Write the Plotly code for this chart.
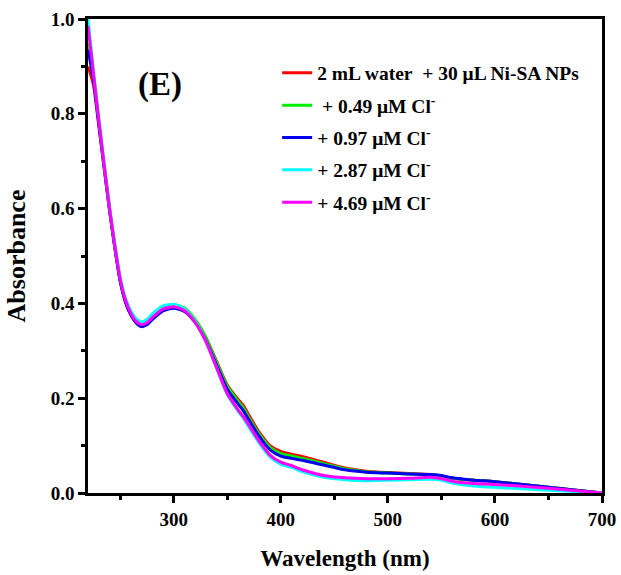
import plotly.graph_objects as go

# Wavelength grid (nm)
wavelength = [220, 225, 230, 235, 240, 245, 250, 255, 260, 265, 270, 275, 280, 290,
              300, 310, 320, 330, 340, 350, 360, 365, 370, 380, 390, 400, 410, 420,
              440, 460, 480, 500, 520, 540, 550, 560, 580, 600, 650, 700]

abs_blank = [0.900, 0.862, 0.776, 0.687, 0.598, 0.518, 0.448, 0.403, 0.376, 0.360, 0.352, 0.356, 0.367, 0.385,
             0.392, 0.386, 0.364, 0.328, 0.278, 0.228, 0.198, 0.185, 0.165, 0.128, 0.100, 0.088, 0.082, 0.077,
             0.065, 0.053, 0.046, 0.043, 0.041, 0.039, 0.036, 0.031, 0.027, 0.024, 0.012, 0.000]

abs_049 = [0.950, 0.878, 0.784, 0.691, 0.601, 0.521, 0.450, 0.405, 0.378, 0.362, 0.354, 0.359, 0.371, 0.390,
           0.397, 0.390, 0.366, 0.328, 0.276, 0.225, 0.194, 0.180, 0.160, 0.124, 0.096, 0.083, 0.078, 0.073,
           0.062, 0.051, 0.045, 0.042, 0.040, 0.039, 0.036, 0.031, 0.027, 0.024, 0.012, 0.000]

abs_097 = [0.935, 0.874, 0.781, 0.689, 0.599, 0.519, 0.448, 0.403, 0.376, 0.359, 0.351, 0.355, 0.366, 0.384,
           0.390, 0.383, 0.360, 0.322, 0.270, 0.219, 0.188, 0.174, 0.155, 0.119, 0.091, 0.078, 0.073, 0.069,
           0.059, 0.049, 0.044, 0.042, 0.040, 0.039, 0.037, 0.032, 0.027, 0.024, 0.012, 0.000]

abs_287 = [1.000, 0.892, 0.792, 0.697, 0.606, 0.526, 0.456, 0.411, 0.384, 0.368, 0.361, 0.366, 0.378, 0.395,
           0.398, 0.389, 0.362, 0.320, 0.264, 0.208, 0.173, 0.158, 0.140, 0.105, 0.076, 0.061, 0.054, 0.045,
           0.033, 0.028, 0.026, 0.027, 0.028, 0.029, 0.027, 0.021, 0.015, 0.012, 0.006, 0.000]

abs_469 = [0.985, 0.888, 0.788, 0.694, 0.603, 0.523, 0.452, 0.407, 0.379, 0.362, 0.355, 0.359, 0.370, 0.388,
           0.393, 0.385, 0.360, 0.320, 0.265, 0.210, 0.176, 0.161, 0.144, 0.109, 0.080, 0.065, 0.058, 0.049,
           0.037, 0.032, 0.030, 0.030, 0.031, 0.033, 0.030, 0.025, 0.020, 0.018, 0.010, 0.000]

NB = "\u00a0"
series_names = [
    f"2 mL water{NB}{NB}+ 30 μL Ni-SA NPs",
    f"{NB}+ 0.49 μM Cl<sup>-</sup>",
    "+ 0.97 μM Cl<sup>-</sup>",
    "+ 2.87 μM Cl<sup>-</sup>",
    "+ 4.69 μM Cl<sup>-</sup>",
]
series_values = [abs_blank, abs_049, abs_097, abs_287, abs_469]
series_colors = ["#ff0000", "#00ee00", "#0000ee", "#00ffff", "#ff00ff"]

fig = go.Figure()
for i, (name, vals, col) in enumerate(zip(series_names, series_values, series_colors)):
    fig.add_trace(go.Scatter(
        x=wavelength, y=vals, mode="lines", name=name,
        line=dict(color=col, width=3, shape="spline", smoothing=0.6),
        legendgroup=f"g{i}",
    ))

FONT = "Liberation Serif"
axis_common = dict(
    showline=True, linecolor="black", linewidth=2.5, mirror=True,
    ticks="outside", ticklen=7, tickwidth=2.5, tickcolor="black",
    showgrid=False, zeroline=False, automargin=False,
    tickfont=dict(family=FONT, size=19, color="black", weight="bold"),
)

fig.update_layout(
    width=621, height=575,
    margin=dict(l=88, r=19, t=19, b=82),
    paper_bgcolor="white", plot_bgcolor="white",
    font=dict(family=FONT, color="black", weight="bold"),
    xaxis=dict(
        range=[220, 700], tickmode="linear", tick0=300, dtick=100,
        minor=dict(dtick=50, tick0=250, ticks="outside", ticklen=4, tickwidth=2.5, tickcolor="black"),
        title=dict(text="Wavelength (nm)", font=dict(family=FONT, size=23, color="black", weight="bold"), standoff=22),
        **axis_common,
    ),
    yaxis=dict(
        range=[0, 1.0], tickmode="linear", tick0=0, dtick=0.2, tickformat=".1f",
        minor=dict(dtick=0.1, ticks="outside", ticklen=4, tickwidth=2.5, tickcolor="black"),
        title=dict(text="Absorbance", font=dict(family=FONT, size=26, color="black", weight="bold"), standoff=18),
        **axis_common,
    ),
    legend=dict(
        x=0.368, y=0.927, xanchor="left", yanchor="top",
        bgcolor="rgba(0,0,0,0)", borderwidth=0,
        font=dict(family=FONT, size=19.5, color="black", weight="bold"),
        tracegroupgap=4,
    ),
    annotations=[dict(
        text="(E)", x=(160 - 88) / 514, y=(493 - 85) / 474, xref="paper", yref="paper",
        xanchor="center", yanchor="middle",
        showarrow=False, font=dict(family=FONT, size=33, color="black", weight="bold"),
    )],
)

fig.write_html("out.html")
